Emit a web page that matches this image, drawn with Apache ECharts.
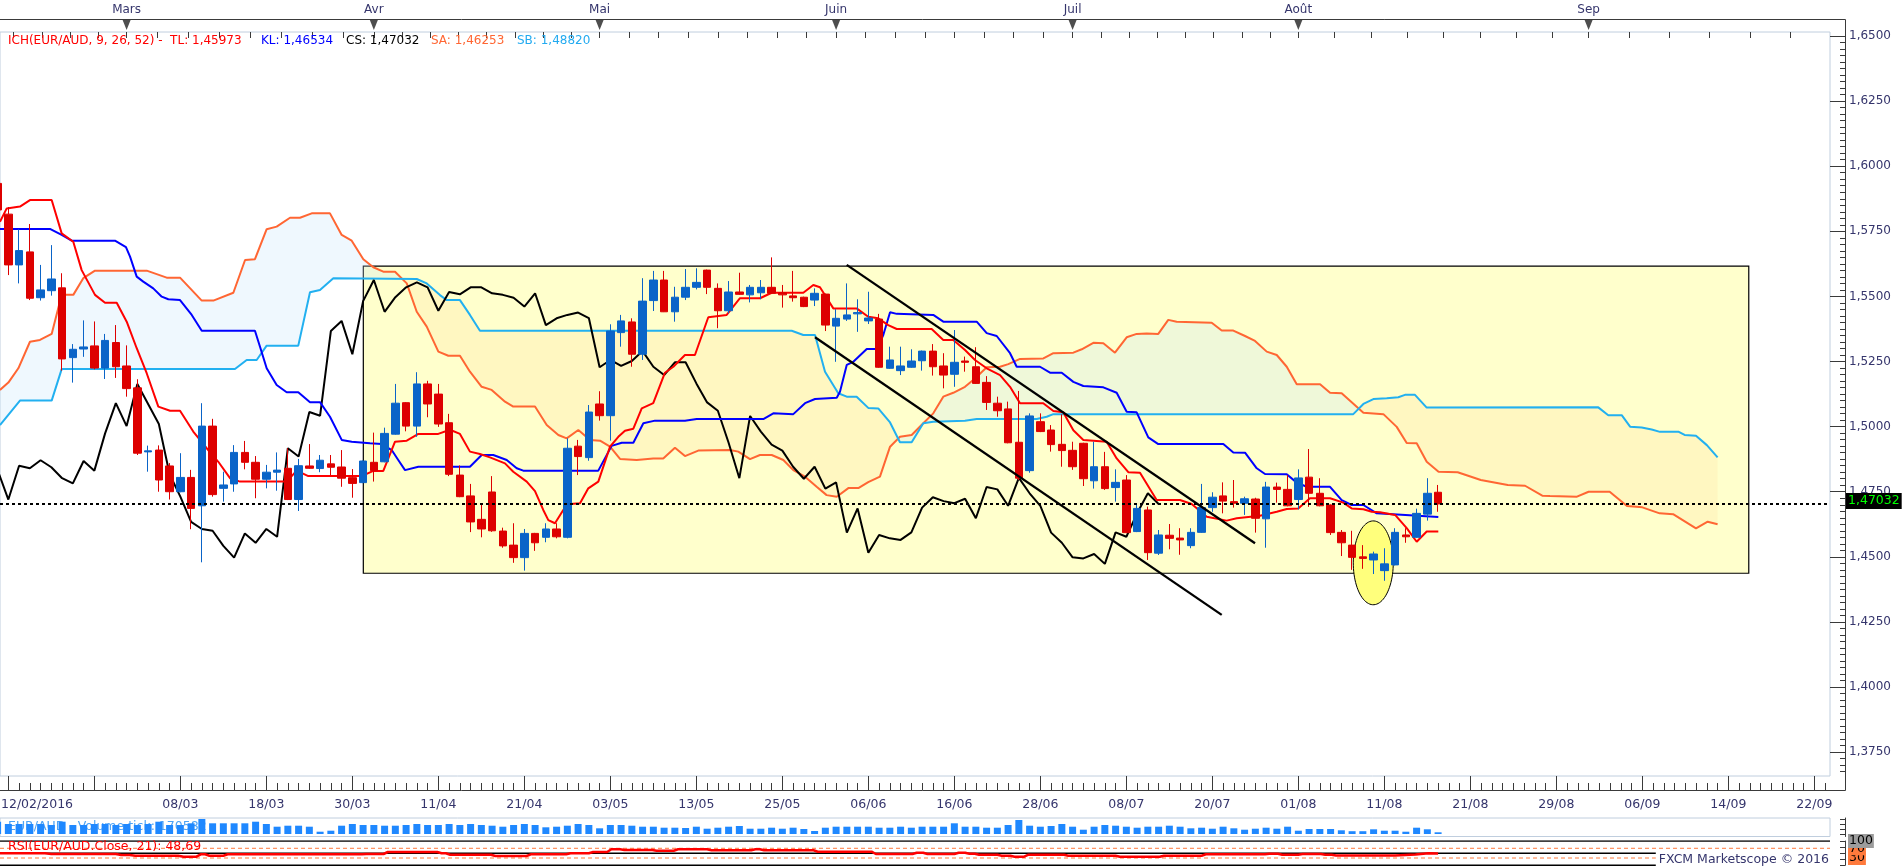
<!DOCTYPE html>
<html><head><meta charset="utf-8">
<script src="https://cdn.jsdelivr.net/npm/echarts@6/dist/echarts.min.js"></script>
<style>html,body{margin:0;padding:0;background:#fff}#c{width:1903px;height:868px}</style>
</head><body><div id="c"></div>
<script>
// ---------- DATA (bar index 0 = 12/02/2016, one bar per trading day) ----------
// candles: [open, close, low, high]
const candles = [
[1.5934,1.5832,1.5824,1.5950],[1.5816,1.5621,1.5582,1.5843],[1.5621,1.5676,1.5550,1.5758],[1.5671,1.5493,1.5486,1.5778],
[1.5495,1.5525,1.5484,1.5621],[1.5522,1.5567,1.5503,1.5697],[1.5533,1.5260,1.5215,1.5589],[1.5265,1.5297,1.5169,1.5317],
[1.5298,1.5306,1.5268,1.5408],[1.5310,1.5225,1.5220,1.5404],[1.5225,1.5331,1.5183,1.5356],[1.5323,1.5230,1.5187,1.5390],
[1.5233,1.5146,1.5115,1.5312],[1.5149,1.4898,1.4891,1.5182],[1.4903,1.4907,1.4827,1.4927],[1.4910,1.4795,1.4750,1.4928],
[1.4849,1.4750,1.4720,1.4860],[1.4750,1.4805,1.4748,1.4898],[1.4805,1.4686,1.4606,1.4834],[1.4696,1.5002,1.4479,1.5090],
[1.5002,1.4739,1.4731,1.5030],[1.4763,1.4776,1.4712,1.4827],[1.4780,1.4901,1.4750,1.4929],[1.4901,1.4863,1.4836,1.4945],
[1.4863,1.4798,1.4725,1.4887],[1.4798,1.4825,1.4763,1.4853],[1.4825,1.4833,1.4754,1.4901],[1.4840,1.4720,1.4718,1.4917],
[1.4720,1.4850,1.4676,1.4876],[1.4849,1.4840,1.4838,1.4933],[1.4839,1.4871,1.4825,1.4891],[1.4857,1.4844,1.4814,1.4891],
[1.4845,1.4802,1.4769,1.4910],[1.4804,1.4782,1.4727,1.4837],[1.4785,1.4868,1.4783,1.4870],[1.4863,1.4831,1.4789,1.4977],
[1.4865,1.4974,1.4863,1.4996],[1.4971,1.5090,1.4969,1.5164],[1.5092,1.5002,1.4982,1.5094],[1.5002,1.5164,1.4961,1.5209],
[1.5164,1.5087,1.5036,1.5176],[1.5125,1.5010,1.4999,1.5164],[1.5015,1.4817,1.4810,1.5049],[1.4814,1.4731,1.4729,1.4851],
[1.4734,1.4634,1.4595,1.4780],[1.4644,1.4607,1.4575,1.4700],[1.4749,1.4600,1.4596,1.4810],[1.4599,1.4542,1.4535,1.4612],
[1.4545,1.4497,1.4477,1.4629],[1.4497,1.4590,1.4447,1.4607],[1.4590,1.4554,1.4523,1.4592],[1.4575,1.4607,1.4556,1.4629],
[1.4607,1.4577,1.4571,1.4629],[1.4575,1.4917,1.4571,1.4955],[1.4925,1.4885,1.4814,1.4949],[1.4881,1.5056,1.4869,1.5083],
[1.5087,1.5042,1.5023,1.5136],[1.5042,1.5367,1.4946,1.5393],[1.5361,1.5406,1.5307,1.5429],[1.5402,1.5278,1.5230,1.5416],
[1.5278,1.5482,1.5256,1.5570],[1.5484,1.5563,1.5444,1.5598],[1.5563,1.5441,1.5440,1.5598],[1.5441,1.5497,1.5403,1.5537],
[1.5497,1.5535,1.5486,1.5605],[1.5535,1.5554,1.5527,1.5608],[1.5601,1.5535,1.5509,1.5603],[1.5531,1.5445,1.5378,1.5550],
[1.5445,1.5517,1.5435,1.5559],[1.5517,1.5508,1.5506,1.5591],[1.5506,1.5535,1.5477,1.5544],[1.5514,1.5535,1.5489,1.5563],
[1.5535,1.5512,1.5510,1.5650],[1.5514,1.5506,1.5457,1.5544],[1.5502,1.5495,1.5480,1.5598],[1.5497,1.5461,1.5459,1.5499],
[1.5486,1.5512,1.5463,1.5531],[1.5509,1.5390,1.5367,1.5511],[1.5386,1.5416,1.5249,1.5451],[1.5413,1.5429,1.5406,1.5550],
[1.5433,1.5438,1.5364,1.5489],[1.5406,1.5417,1.5394,1.5518],[1.5413,1.5228,1.5226,1.5433],[1.5224,1.5256,1.5222,1.5307],
[1.5215,1.5233,1.5198,1.5307],[1.5228,1.5252,1.5226,1.5297],[1.5253,1.5290,1.5215,1.5292],[1.5290,1.5230,1.5196,1.5317],
[1.5233,1.5198,1.5147,1.5282],[1.5201,1.5247,1.5153,1.5371],[1.5252,1.5247,1.5211,1.5269],[1.5230,1.5166,1.5164,1.5305],
[1.5170,1.5093,1.5064,1.5194],[1.5090,1.5061,1.5038,1.5115],[1.5068,1.4938,1.4936,1.5096],[1.4940,1.4802,1.4795,1.5137],
[1.4831,1.5041,1.4823,1.5051],[1.5019,1.4981,1.4979,1.5051],[1.4987,1.4931,1.4904,1.5006],[1.4932,1.4908,1.4846,1.5047],
[1.4909,1.4846,1.4834,1.4942],[1.4936,1.4800,1.4772,1.4938],[1.4792,1.4846,1.4762,1.4942],[1.4846,1.4762,1.4757,1.4903],
[1.4766,1.4786,1.4712,1.4836],[1.4795,1.4593,1.4591,1.4814],[1.4597,1.4686,1.4595,1.4703],[1.4680,1.4516,1.4488,1.4693],
[1.4514,1.4584,1.4507,1.4603],[1.4583,1.4571,1.4529,1.4626],[1.4572,1.4565,1.4508,1.4610],[1.4543,1.4594,1.4533,1.4610],
[1.4594,1.4689,1.4592,1.4780],[1.4689,1.4729,1.4673,1.4748],[1.4734,1.4714,1.4667,1.4786],[1.4712,1.4706,1.4689,1.4795],
[1.4706,1.4723,1.4661,1.4731],[1.4722,1.4648,1.4593,1.4727],[1.4646,1.4768,1.4535,1.4788],[1.4768,1.4759,1.4708,1.4785],
[1.4759,1.4696,1.4694,1.4814],[1.4720,1.4803,1.4682,1.4836],[1.4806,1.4744,1.4692,1.4914],[1.4744,1.4696,1.4694,1.4802],
[1.4699,1.4593,1.4584,1.4701],[1.4594,1.4554,1.4503,1.4603],[1.4545,1.4498,1.4450,1.4600],[1.4500,1.4494,1.4454,1.4545],
[1.4488,1.4511,1.4434,1.4520],[1.4447,1.4473,1.4408,1.4533],[1.4469,1.4594,1.4467,1.4610],[1.4584,1.4577,1.4554,1.4610],
[1.4575,1.4667,1.4573,1.4685],[1.4664,1.4744,1.4639,1.4802],[1.4748,1.47032,1.4673,1.4776]
];
// tick volume per bar
const volumes = [
1230000,1000000,1000000,1000000,1000000,900000,1230000,900000,900000,1000000,
1000000,900000,1000000,900000,1000000,1230000,900000,900000,1070000,1500000,
1070000,1070000,1070000,1070000,1230000,1000000,730000,830000,830000,730000,
230000,330000,830000,1000000,900000,900000,830000,830000,900000,1000000,
900000,900000,1000000,900000,1000000,900000,830000,730000,900000,1000000,
900000,670000,730000,830000,1000000,900000,570000,900000,900000,830000,
730000,730000,630000,630000,600000,730000,530000,630000,730000,800000,
530000,530000,630000,530000,630000,500000,300000,630000,730000,730000,
730000,730000,630000,630000,730000,630000,730000,730000,730000,1070000,
730000,730000,630000,630000,900000,1400000,830000,730000,800000,1000000,
730000,430000,730000,900000,830000,730000,630000,730000,730000,830000,
730000,570000,630000,530000,730000,570000,430000,530000,630000,530000,
730000,330000,500000,500000,500000,370000,280000,280000,470000,330000,
330000,230000,630000,470000,170582
];
// Ichimoku lines, vertices [bar index, value]
const tenkan = [[0.22,1.5787],[0.85,1.5838],[2.08,1.5845],[3.01,1.5870],[5.03,1.5870],[5.96,1.5742],[7.04,1.5710],[7.82,1.5601],[9.06,1.5506],[9.99,1.5476],[11.08,1.5476],[12.01,1.5403],[12.94,1.5301],[13.87,1.5205],[14.95,1.5077],[16.04,1.5061],[16.97,1.5061],[18.20,1.4981],[19.45,1.4917],[20.53,1.4865],[21.62,1.4802],[22.55,1.4789],[26.89,1.4789],[27.82,1.4831],[28.90,1.4810],[33.87,1.4810],[34.95,1.4830],[35.88,1.4830],[36.97,1.4942],[38.06,1.4946],[39.14,1.4972],[40.99,1.4972],[42.08,1.4988],[43.01,1.4972],[43.94,1.4904],[44.87,1.4895],[45.80,1.4882],[47.20,1.4859],[47.97,1.4827],[49.22,1.4789],[49.99,1.4752],[50.76,1.4680],[51.23,1.4641],[51.85,1.4629],[52.62,1.4680],[53.25,1.4703],[54.18,1.4706],[54.95,1.4763],[55.88,1.4789],[56.97,1.4923],[57.74,1.4961],[58.36,1.4984],[59.14,1.4992],[59.92,1.5070],[60.99,1.5090],[62.08,1.5207],[62.86,1.5230],[63.94,1.5275],[64.87,1.5275],[66.11,1.5420],[67.82,1.5429],[69.06,1.5493],[70.92,1.5493],[72.01,1.5514],[74.95,1.5514],[75.88,1.5544],[76.50,1.5535],[77.74,1.5454],[79.91,1.5454],[80.99,1.5422],[81.92,1.5416],[82.85,1.5390],[83.64,1.5375],[86.89,1.5375],[87.97,1.5333],[88.90,1.5333],[89.99,1.5294],[90.92,1.5256],[92.01,1.5224],[93.25,1.5198],[94.18,1.5153],[95.11,1.5090],[97.27,1.5090],[98.21,1.5060],[99.13,1.5055],[100.07,1.4986],[101.00,1.4949],[103.17,1.4942],[104.10,1.4878],[105.18,1.4825],[106.27,1.4823],[107.82,1.4718],[109.99,1.4718],[111.08,1.4703],[112.48,1.4654],[114.33,1.4639],[115.27,1.4648],[117.43,1.4658],[118.99,1.4673],[119.92,1.4684],[120.99,1.4686],[122.08,1.4725],[123.95,1.4725],[125.18,1.4708],[125.96,1.4686],[127.05,1.4683],[127.83,1.4673],[128.60,1.4671],[130.00,1.4661],[131.08,1.4610],[132.01,1.4558],[132.94,1.4597],[134.02,1.45973]];
const kijun = [[0.22,1.5759],[4.87,1.5759],[5.96,1.5736],[6.89,1.5714],[10.92,1.5714],[11.94,1.5689],[12.32,1.5653],[12.94,1.5576],[13.55,1.5557],[14.48,1.5531],[15.27,1.5499],[15.88,1.5489],[16.97,1.5486],[18.06,1.5429],[18.99,1.5368],[23.94,1.5368],[24.41,1.5307],[25.03,1.5224],[25.96,1.5160],[26.89,1.5132],[27.97,1.5132],[29.06,1.5094],[29.99,1.5094],[30.92,1.5038],[32.01,1.4949],[32.94,1.4942],[34.64,1.4936],[35.73,1.4933],[36.66,1.4910],[37.27,1.4872],[37.90,1.4833],[39.14,1.4846],[43.94,1.4846],[45.03,1.4891],[46.11,1.4891],[47.36,1.4872],[48.29,1.4840],[48.90,1.4831],[55.88,1.4831],[57.12,1.4926],[58.06,1.4938],[59.14,1.4938],[60.07,1.5013],[61.15,1.5023],[63.94,1.5023],[65.03,1.5029],[71.23,1.5029],[72.16,1.5051],[74.02,1.5048],[75.11,1.5090],[76.04,1.5106],[78.06,1.5111],[78.36,1.5134],[78.99,1.5237],[79.60,1.5249],[80.85,1.5298],[81.78,1.5298],[82.39,1.5352],[83.02,1.5439],[83.64,1.5433],[87.04,1.5429],[87.97,1.5403],[91.08,1.5403],[92.01,1.5359],[92.94,1.5348],[94.18,1.5282],[94.80,1.5230],[96.97,1.5230],[97.90,1.5207],[98.99,1.5207],[100.07,1.5172],[101.00,1.5156],[102.86,1.5151],[104.10,1.5130],[105.03,1.5057],[105.96,1.5055],[107.04,1.4959],[107.97,1.4933],[114.02,1.4933],[114.95,1.4901],[116.04,1.4900],[117.13,1.4840],[117.90,1.4818],[119.92,1.4817],[120.85,1.4785],[121.78,1.4769],[123.95,1.4769],[125.03,1.4718],[125.96,1.4699],[127.05,1.4699],[128.29,1.4667],[134.02,1.46534]];
const senkouA = [[0.22,1.5141],[1.00,1.5169],[1.93,1.5224],[3.01,1.5326],[3.94,1.5333],[5.03,1.5356],[5.96,1.5506],[7.04,1.5506],[7.97,1.5570],[9.06,1.5599],[13.87,1.5599],[15.73,1.5572],[16.97,1.5572],[18.99,1.5484],[20.07,1.5484],[21.93,1.5514],[23.02,1.5640],[23.94,1.5643],[25.03,1.5758],[25.96,1.5768],[27.20,1.5802],[28.13,1.5802],[29.22,1.5819],[30.92,1.5819],[32.01,1.5736],[32.94,1.5714],[34.02,1.5643],[34.95,1.5612],[35.88,1.5595],[36.97,1.5595],[38.06,1.5550],[38.99,1.5441],[39.92,1.5384],[41.00,1.5288],[41.93,1.5272],[43.01,1.5272],[43.94,1.5211],[45.03,1.5153],[45.96,1.5141],[47.20,1.5096],[47.97,1.5077],[49.99,1.5077],[51.08,1.5006],[52.16,1.4968],[52.94,1.4955],[54.02,1.4987],[55.11,1.4949],[56.04,1.4946],[56.97,1.4923],[57.90,1.4876],[59.45,1.4872],[60.99,1.4878],[61.92,1.4878],[63.01,1.4919],[63.94,1.4887],[65.18,1.4908],[68.13,1.4910],[68.90,1.4904],[69.99,1.4875],[70.92,1.4891],[72.01,1.4891],[73.09,1.4872],[74.02,1.4833],[75.11,1.4808],[76.19,1.4769],[77.12,1.4737],[78.06,1.4731],[79.14,1.4764],[80.07,1.4764],[80.99,1.4787],[82.08,1.4808],[83.02,1.4923],[83.94,1.4961],[85.03,1.4968],[86.11,1.5013],[87.04,1.5051],[87.97,1.5115],[88.90,1.5130],[89.99,1.5153],[90.92,1.5185],[92.01,1.5228],[93.25,1.5230],[94.02,1.5240],[95.11,1.5260],[97.28,1.5262],[98.21,1.5282],[100.07,1.5284],[100.85,1.5297],[101.93,1.5322],[102.86,1.5320],[103.94,1.5284],[105.03,1.5343],[105.96,1.5356],[106.89,1.5358],[107.97,1.5356],[108.90,1.5410],[109.68,1.5403],[112.94,1.5399],[113.87,1.5369],[114.95,1.5369],[116.04,1.5348],[116.97,1.5329],[118.06,1.5288],[118.99,1.5275],[119.92,1.5230],[120.85,1.5163],[123.02,1.5163],[123.95,1.5130],[125.03,1.5128],[127.05,1.5053],[128.91,1.5048],[130.15,1.4999],[131.08,1.4937],[132.01,1.4936],[132.94,1.4865],[134.04,1.4827],[135.82,1.4825],[137.97,1.4795],[140.48,1.4776],[142.09,1.4773],[143.69,1.4735],[144.41,1.4734],[146.92,1.4731],[148.00,1.4750],[149.96,1.4750],[151.57,1.4695],[153.00,1.4690],[154.61,1.4667],[155.86,1.4664],[157.99,1.4609],[159.08,1.4635],[160.00,1.46253]];
const senkouB = [[0.22,1.5006],[2.08,1.5100],[5.03,1.5100],[5.96,1.5221],[22.08,1.5221],[23.17,1.5256],[24.10,1.5256],[25.03,1.5311],[27.97,1.5311],[29.06,1.5516],[29.99,1.5525],[31.23,1.5570],[38.99,1.5567],[39.92,1.5550],[41.15,1.5505],[41.78,1.5486],[43.01,1.5486],[43.94,1.5429],[44.87,1.5368],[73.87,1.5368],[74.95,1.5352],[76.04,1.5352],[76.97,1.5211],[78.20,1.5128],[78.99,1.5115],[79.91,1.5115],[80.99,1.5072],[81.92,1.5070],[83.02,1.5016],[83.94,1.4940],[85.03,1.4940],[86.11,1.5013],[87.04,1.5019],[89.99,1.5023],[91.08,1.5029],[96.66,1.5029],[97.59,1.5038],[98.21,1.5048],[126.11,1.5048],[127.05,1.5087],[127.98,1.5106],[129.22,1.5109],[130.30,1.5113],[130.92,1.5122],[131.85,1.5122],[132.94,1.5073],[148.90,1.5074],[149.83,1.5044],[151.08,1.5044],[151.86,1.5000],[152.94,1.4997],[153.87,1.4989],[154.64,1.4980],[156.39,1.4980],[156.93,1.4968],[157.99,1.4965],[159.00,1.4929],[160.00,1.48820]];
const chikouShift = 26;
// RSI(21) vertices [bar index, value]
const rsi = [[0.2,49.4],[4.4,49.4],[5.0,46.5],[11.0,46.5],[11.5,42.4],[12.3,42.4],[12.8,39.5],[16.8,39.5],[17.3,35.4],[18.5,35.4],[18.9,45.3],[19.3,45.3],[19.7,39.5],[21.0,39.5],[21.4,45.3],[33.9,45.3],[34.3,46.5],[35.9,46.5],[36.3,54.7],[40.9,54.7],[41.3,49.4],[41.7,49.4],[42.1,43.6],[45.9,43.6],[46.3,38.3],[49.2,38.3],[49.6,45.3],[52.9,45.3],[53.3,49.4],[55.0,49.4],[55.4,54.7],[56.7,54.7],[57.1,65.8],[57.9,65.8],[58.3,63.0],[60.9,63.0],[61.3,60.1],[62.9,60.1],[63.3,65.8],[66.0,65.8],[66.4,61.7],[70.1,61.7],[70.5,65.8],[70.9,65.8],[71.3,61.7],[75.9,61.7],[76.3,56.0],[81.3,56.0],[81.7,46.5],[85.1,46.5],[85.5,51.9],[86.1,51.9],[86.5,46.5],[89.0,46.5],[89.4,51.9],[90.0,51.9],[90.4,47.7],[90.9,47.7],[91.3,43.6],[93.0,43.6],[93.4,39.5],[94.2,39.5],[94.6,35.4],[95.5,35.4],[95.9,43.6],[99.2,43.6],[99.6,39.5],[104.0,39.5],[104.4,35.4],[108.1,35.4],[108.5,39.5],[112.0,39.5],[112.4,45.3],[117.9,45.3],[118.3,47.7],[119.1,47.7],[119.5,43.6],[121.0,43.6],[121.4,46.5],[123.1,46.5],[123.5,43.6],[124.1,43.6],[124.5,40.5],[130.0,40.5],[131.9,44.0],[133.1,49.5],[134.0,48.69]];
const rsiLevels = [100, 70, 50, 30, 0];
const rsiAxisLabels = [30, 70, 100];
// annotations drawn on the chart (in data coordinates)
const trendLines = [[[78.99,1.5621],[116.97,1.4552]], [[76.04,1.5343],[113.87,1.4277]]];
const highlightBox = [34.02, 1.4437, 162.9, 1.5616];     // x0, yLow, x1, yHigh
const highlightEllipse = [127.97, 1.4477, 1.86, 0.0161]; // cx, cy, rx, ry
// axis labels
const yMajor = [1.375,1.4,1.425,1.45,1.475,1.5,1.525,1.55,1.575,1.6,1.625,1.65];
const dateLabelIdx = [17,25,33,41,49,57,65,73,81,89,97,105,113,121,129,137,145,153,161,169];
const dateLabels = ['08/03','18/03','30/03','11/04','21/04','03/05','13/05','25/05','06/06','16/06','28/06','08/07','20/07','01/08','11/08','21/08','29/08','06/09','14/09','22/09'];
const firstDateLabel = '12/02/2016';
const monthStarts = [-9, 12, 35, 56, 78, 100, 121, 148, 178];
const monthIdx = [12, 35, 56, 78, 100, 121, 148];
const monthNames = ['Mars','Avr','Mai','Juin','Juil','Août','Sep'];
const legendItems = [
  ['ICH(EUR/AUD, 9, 26, 52) -  TL: 1,45973', '#ff0000', 8],
  ['KL: 1,46534', '#0000ff', 261],
  ['CS: 1,47032', '#000000', 346],
  ['SA: 1,46253', '#ff6633', 431],
  ['SB: 1,48820', '#22aaf0', 517]
];
const volumeLabel = 'EUR/AUD - Volume tick: 170582';
const rsiLabel = 'RSI(EUR/AUD.Close, 21): 48,69';

// ---------- LAYOUT ----------
const X_MIN = 0.2233, X_MAX = 170.456;
const Y_MIN = 1.36584, Y_MAX = 1.65154;
const FONT = 'DejaVu Sans';
const TXT = '#35356c';
const lastClose = candles[candles.length - 1][1];

const majorTicks = []; for (let v = 1; v <= X_MAX; v += 8) majorTicks.push(v);
const minorTicks = []; for (let v = 1; v <= X_MAX; v += 1) minorTicks.push(v);
const topTicks = [];
for (let m = 0; m < monthStarts.length - 1; m++) {
  const a = monthStarts[m], b = monthStarts[m + 1];
  for (let k = 0; k < 8; k++) { const v = a + k * (b - a) / 8; if (v > X_MIN && v < X_MAX) topTicks.push(v); }
}
const yMinor = []; for (let k = Math.ceil(Y_MIN / 0.0025); k * 0.0025 <= Y_MAX; k++) yMinor.push(+(k * 0.0025).toFixed(4));

const candleData = candles.map((c, i) => [i, c[0], c[1], c[2], c[3]]);
const chikouData = candles.map((c, i) => [i - chikouShift, c[1]]).filter(p => p[0] >= -1);
const volumeData = volumes.map((v, i) => [i, v]);

function interp(pts, x) {
  if (x <= pts[0][0]) return pts[0][1];
  for (let k = 1; k < pts.length; k++) {
    if (x <= pts[k][0]) { const a = pts[k - 1], b = pts[k]; return a[1] + (b[1] - a[1]) * (x - a[0]) / (b[0] - a[0]); }
  }
  return pts[pts.length - 1][1];
}
function cloudSegments() {
  const xs = Array.from(new Set(senkouA.map(p => p[0]).concat(senkouB.map(p => p[0])))).sort((a, b) => a - b);
  const rows = xs.map(x => [x, interp(senkouA, x), interp(senkouB, x)]);
  const segs = []; let cur = { bull: rows[0][1] >= rows[0][2], pts: [rows[0]] };
  for (let k = 1; k < rows.length; k++) {
    const p = rows[k - 1], r = rows[k]; const bull = r[1] >= r[2];
    if (bull !== cur.bull) {
      const d0 = p[1] - p[2], d1 = r[1] - r[2]; const t = d0 / (d0 - d1);
      const xc = p[0] + t * (r[0] - p[0]); const yc = p[1] + t * (r[1] - p[1]);
      cur.pts.push([xc, yc, yc]); segs.push(cur); cur = { bull, pts: [[xc, yc, yc]] };
    }
    cur.pts.push(r);
  }
  segs.push(cur);
  return segs;
}
const cloud = cloudSegments();

const chart = echarts.init(document.getElementById('c'));
const lineS = (name, data, color, z) => ({ type: 'line', name, data, xAxisIndex: 0, yAxisIndex: 0, showSymbol: false, symbol: 'none', z, silent: true, lineStyle: { color, width: 2 } });
const F = sz => sz + 'px "' + FONT + '"';

const graphics = [
  { id: 'fTop', type: 'line', z: 100, shape: { x1: 0, y1: 19.5, x2: 1845.5, y2: 19.5 }, style: { stroke: '#3a3a3a', lineWidth: 1 } },
  { id: 'fBot', type: 'line', z: 100, shape: { x1: 0, y1: 790.5, x2: 1845.5, y2: 790.5 }, style: { stroke: '#3a3a3a', lineWidth: 1 } },
  { id: 'fRight', type: 'line', z: 100, shape: { x1: 1845.5, y1: 19.5, x2: 1845.5, y2: 790.5 }, style: { stroke: '#3a3a3a', lineWidth: 1 } },
  { id: 'firstDate', type: 'text', z: 100, x: 1, y: 805, style: { text: firstDateLabel, fill: TXT, font: F(12.5), verticalAlign: 'middle' } },
  { id: 'volLbl', type: 'text', z: 0, x: 8, y: 827, style: { text: volumeLabel, fill: '#4da3f5', font: F(12.5), verticalAlign: 'middle' } },
  { id: 'rsiLbl', type: 'text', z: 100, x: 8, y: 847, style: { text: rsiLabel, fill: '#ff0000', font: F(12.5), verticalAlign: 'middle' } },
  { id: 'fxcm', type: 'text', z: 100, x: 1830, y: 859.5, style: { text: 'FXCM Marketscope © 2016', fill: TXT, font: F(12.5), align: 'right', verticalAlign: 'middle', backgroundColor: '#ffffff', padding: [1, 1, 2, 3] } }
].concat(legendItems.map((l, k) => ({ id: 'leg' + k, type: 'text', z: 100, x: l[2], y: 41, style: { text: l[0], fill: l[1], font: F(12), verticalAlign: 'middle' } })));

const axisTxt = { color: TXT, fontFamily: FONT, fontSize: 12, hideOverlap: false };
const rsiLabelAxes = rsiAxisLabels.map(v => ({
  gridIndex: 2, type: 'value', min: 0, max: 100, position: 'right', offset: 15, axisLine: { show: false }, splitLine: { show: false }, axisTick: { show: false },
  axisLabel: { show: true, hideOverlap: false, customValues: [v], margin: 3, color: '#000', fontFamily: FONT, fontSize: 12.5,
    backgroundColor: v === 100 ? '#9c9c9c' : '#ff7a3c', padding: [1, 1, 0, 1] }
}));
const option = {
  animation: false,
  backgroundColor: '#ffffff',
  grid: [
    { left: 0, top: 32, width: 1830, height: 744, show: true, borderColor: '#c0cede', borderWidth: 1, backgroundColor: 'transparent', outerBoundsMode: 'none' },
    { left: 0, top: 818, width: 1830, height: 18.5, show: true, borderColor: '#c0cede', borderWidth: 1, backgroundColor: 'transparent', outerBoundsMode: 'none' },
    { left: 0, top: 841, width: 1830, height: 24.3, show: false, outerBoundsMode: 'none' },
    { left: 0, top: 20, width: 1830, height: 12, show: false, outerBoundsMode: 'none' }
  ],
  xAxis: [
    { gridIndex: 0, type: 'value', min: X_MIN, max: X_MAX, position: 'bottom', offset: 14, axisLine: { show: false }, splitLine: { show: false },
      axisTick: { show: true, inside: true, length: 14, customValues: majorTicks, lineStyle: { color: '#3a3a3a' } },
      axisLabel: { show: true, hideOverlap: false, customValues: dateLabelIdx, margin: 8, formatter: v => dateLabels[dateLabelIdx.indexOf(Math.round(v))] || '', color: TXT, fontFamily: FONT, fontSize: 12.5 } },
    { gridIndex: 0, type: 'value', min: X_MIN, max: X_MAX, position: 'bottom', offset: 14, axisLine: { show: false }, splitLine: { show: false },
      axisTick: { show: true, inside: true, length: 7, customValues: minorTicks, lineStyle: { color: '#3a3a3a' } }, axisLabel: { show: false } },
    { gridIndex: 1, type: 'value', min: X_MIN, max: X_MAX, show: false },
    { gridIndex: 2, type: 'value', min: X_MIN, max: X_MAX, show: false },
    { gridIndex: 3, type: 'value', min: X_MIN, max: X_MAX, position: 'top', axisLine: { show: false }, splitLine: { show: false },
      axisTick: { show: true, inside: true, length: 6, customValues: topTicks, lineStyle: { color: '#3a3a3a' } }, axisLabel: { show: false } },
    { gridIndex: 3, type: 'value', min: X_MIN, max: X_MAX, position: 'top', axisLine: { show: false }, splitLine: { show: false }, axisTick: { show: false },
      axisLabel: Object.assign({ show: true, customValues: monthIdx, margin: 4, formatter: v => monthNames[monthIdx.indexOf(Math.round(v))] || '' }, axisTxt) }
  ],
  yAxis: [
    { gridIndex: 0, type: 'value', min: Y_MIN, max: Y_MAX, position: 'right', offset: 15, axisLine: { show: false }, splitLine: { show: false },
      axisTick: { show: true, inside: true, length: 15, customValues: yMajor, lineStyle: { color: '#3a3a3a' } }, axisLabel: { show: false } },
    { gridIndex: 0, type: 'value', min: Y_MIN, max: Y_MAX, position: 'right', offset: 15, axisLine: { show: false }, splitLine: { show: false },
      axisTick: { show: true, inside: true, length: 5, customValues: yMinor, lineStyle: { color: '#3a3a3a' } }, axisLabel: { show: false } },
    { gridIndex: 1, type: 'value', min: -250000, max: 1600000, position: 'right', offset: 15, axisLine: { show: true, lineStyle: { color: '#3a3a3a' } }, splitLine: { show: false },
      axisTick: { show: true, inside: true, length: 5, customValues: [0, 500000, 1000000, 1500000], lineStyle: { color: '#3a3a3a' } }, axisLabel: { show: false } },
    { gridIndex: 2, type: 'value', min: 0, max: 100, position: 'right', offset: 15, axisLine: { show: true, lineStyle: { color: '#3a3a3a' } }, splitLine: { show: false },
      axisTick: { show: true, inside: true, length: 5, customValues: [0, 25, 50, 75, 100], lineStyle: { color: '#3a3a3a' } }, axisLabel: { show: false } },
    { gridIndex: 3, type: 'value', min: 0, max: 1, show: false }
  ].concat(rsiLabelAxes),
  graphic: { elements: graphics },
  series: [
    { type: 'custom', name: 'box', xAxisIndex: 0, yAxisIndex: 0, z: 1, silent: true, data: [highlightBox], encode: { x: [0, 2], y: [1, 3] },
      renderItem: (p, api) => { const a = api.coord([api.value(0), api.value(3)]), b = api.coord([api.value(2), api.value(1)]);
        return { type: 'rect', shape: { x: a[0], y: a[1], width: b[0] - a[0], height: b[1] - a[1] }, style: { fill: '#ffffcc', stroke: '#000', lineWidth: 1.2 } }; } },
    { type: 'custom', name: 'cloud', xAxisIndex: 0, yAxisIndex: 0, z: 2, silent: true, clip: true, data: [[X_MIN, Y_MIN]],
      renderItem: (p, api) => ({ type: 'group', children: cloud.map(s => ({ type: 'polygon',
        shape: { points: s.pts.map(r => api.coord([r[0], r[1]])).concat(s.pts.slice().reverse().map(r => api.coord([r[0], r[2]]))) },
        style: { fill: s.bull ? 'rgba(196,230,250,0.28)' : 'rgba(255,190,125,0.13)' } })) }) },
    { type: 'custom', name: 'ellipse', xAxisIndex: 0, yAxisIndex: 0, z: 3, silent: true, data: [highlightEllipse], encode: { x: 0, y: 1 },
      renderItem: (p, api) => { const cx = api.value(0), cy = api.value(1), rx = api.value(2), ry = api.value(3); const pts = [];
        for (let k = 0; k < 90; k++) { const t = k / 90 * Math.PI * 2; pts.push(api.coord([cx + rx * Math.cos(t), cy + ry * Math.sin(t)])); }
        return { type: 'polygon', shape: { points: pts }, style: { fill: '#ffff7c', stroke: '#000', lineWidth: 1 } }; } },
    lineS('SA', senkouA, '#ff6633', 4),
    lineS('SB', senkouB, '#22b0f0', 4),
    lineS('CS', chikouData, '#000000', 5),
    lineS('KL', kijun, '#0000ff', 5),
    lineS('TL', tenkan, '#ff0000', 5),
    { type: 'candlestick', name: 'EUR/AUD', xAxisIndex: 0, yAxisIndex: 0, z: 6, silent: true, data: candleData, encode: { x: 0, y: [1, 2, 3, 4] }, barWidth: 8,
      itemStyle: { color: '#0a64c8', color0: '#dd0000', borderColor: '#0a64c8', borderColor0: '#dd0000', borderWidth: 1 } },
    { type: 'line', name: 'price', xAxisIndex: 0, yAxisIndex: 0, z: 7, silent: true, showSymbol: false, symbol: 'none', data: [[X_MIN, lastClose], [X_MAX, lastClose]],
      lineStyle: { color: '#000', width: 2, type: [3, 3] } },
    ...trendLines.map((t, k) => ({ type: 'line', name: 'trend' + k, xAxisIndex: 0, yAxisIndex: 0, z: 8, silent: true, showSymbol: false, symbol: 'none', data: t,
      lineStyle: { color: '#000', width: 2.3 } })),
    { type: 'bar', name: 'volume', xAxisIndex: 2, yAxisIndex: 2, z: 2, silent: true, data: volumeData, barWidth: 7, itemStyle: { color: '#1f88ff' } },
    ...rsiLevels.map(v => ({ type: 'line', name: 'lvl' + v, xAxisIndex: 3, yAxisIndex: 3, z: 2, silent: true, showSymbol: false, symbol: 'none', data: [[X_MIN, v], [X_MAX, v]],
      lineStyle: (v === 70 || v === 30) ? { color: '#ff7a3c', width: 1, type: [4, 3] } : { color: '#000', width: 1.5 } })),
    { type: 'line', name: 'RSI', xAxisIndex: 3, yAxisIndex: 3, z: 3, silent: true, showSymbol: false, symbol: 'none', data: rsi, lineStyle: { color: '#ff0000', width: 2.5 } },
    { type: 'scatter', name: 'months', xAxisIndex: 4, yAxisIndex: 4, silent: true, data: monthIdx.map(m => [m, 0.58]), symbol: 'triangle', symbolRotate: 180, symbolSize: [8, 10], itemStyle: { color: '#222' } }
  ]
};
chart.setOption(option);
// price-axis labels and last-price tag, placed with the chart's own y scale
const extra = yMajor.map((v, k) => ({ id: 'ylab' + k, type: 'text', z: 110, x: 1849, y: chart.convertToPixel({ yAxisIndex: 0 }, v),
  style: { text: v.toFixed(4).replace('.', ','), fill: TXT, font: F(12), verticalAlign: 'middle' } }));
extra.push({ id: 'priceTag', type: 'text', z: 120, x: 1846, y: chart.convertToPixel({ yAxisIndex: 0 }, lastClose) - 3,
  style: { text: lastClose.toFixed(5).replace('.', ','), fill: '#00ff00', font: F(12.5), verticalAlign: 'middle', backgroundColor: '#000000', padding: [2, 2, 1, 2] } });
chart.setOption({ graphic: { elements: extra } });
</script></body></html>
